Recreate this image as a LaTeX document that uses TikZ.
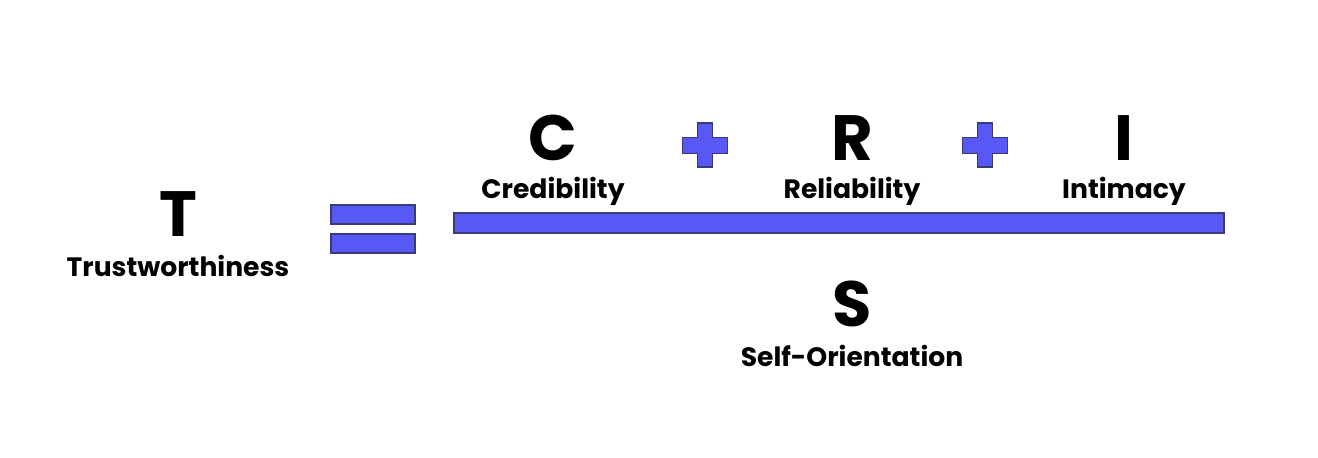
\documentclass[tikz,border=0pt]{standalone}
\usepackage{fontspec}
\setmainfont{Poppins}
\usepackage{tikz}

\definecolor{barblue}{RGB}{88,88,245}
\definecolor{baredge}{RGB}{58,58,120}

\begin{document}
\begin{tikzpicture}[
  x=0.5pt,y=-0.5pt,
  big/.style={font=\fontsize{32}{32}\selectfont\bfseries,anchor=base,inner sep=0pt},
  word/.style={font=\fontsize{13.3}{13.3}\selectfont\bfseries,anchor=base,inner sep=0pt},
  bar/.style={draw=baredge,fill=barblue,line width=0.6pt}
]
\useasboundingbox (0,0) rectangle (1318,458);
% left side
\node[big] (T) at (178,237) {T};
\node[word] (trust) at (178,277) {Trustworthiness};
% equals sign
\draw[bar] (331,205) rectangle (415,224);
\draw[bar] (331,234) rectangle (415,253);
% numerator
\node[big] (C) at (553,161) {C};
\node[word] (cred) at (553,199) {Credibility};
\node[big] (R) at (852,161) {R};
\node[word] (rel) at (852,199) {Reliability};
\node[big] (I) at (1124,161) {I};
\node[word] (int) at (1124,199) {Intimacy};
% plus signs
\foreach \cx in {705,985}{
  \draw[bar] (\cx-7.5,123) -- (\cx+7.5,123) -- (\cx+7.5,137.5) -- (\cx+22.5,137.5)
    -- (\cx+22.5,153.5) -- (\cx+7.5,153.5) -- (\cx+7.5,167) -- (\cx-7.5,167)
    -- (\cx-7.5,153.5) -- (\cx-22.5,153.5) -- (\cx-22.5,137.5) -- (\cx-7.5,137.5) -- cycle;
}
% fraction bar
\draw[bar] (454,213) rectangle (1224,233);
% denominator
\node[big] (S) at (852,327) {S};
\node[word] (self) at (852,367) {Self-Orientation};
\end{tikzpicture}
\end{document}
